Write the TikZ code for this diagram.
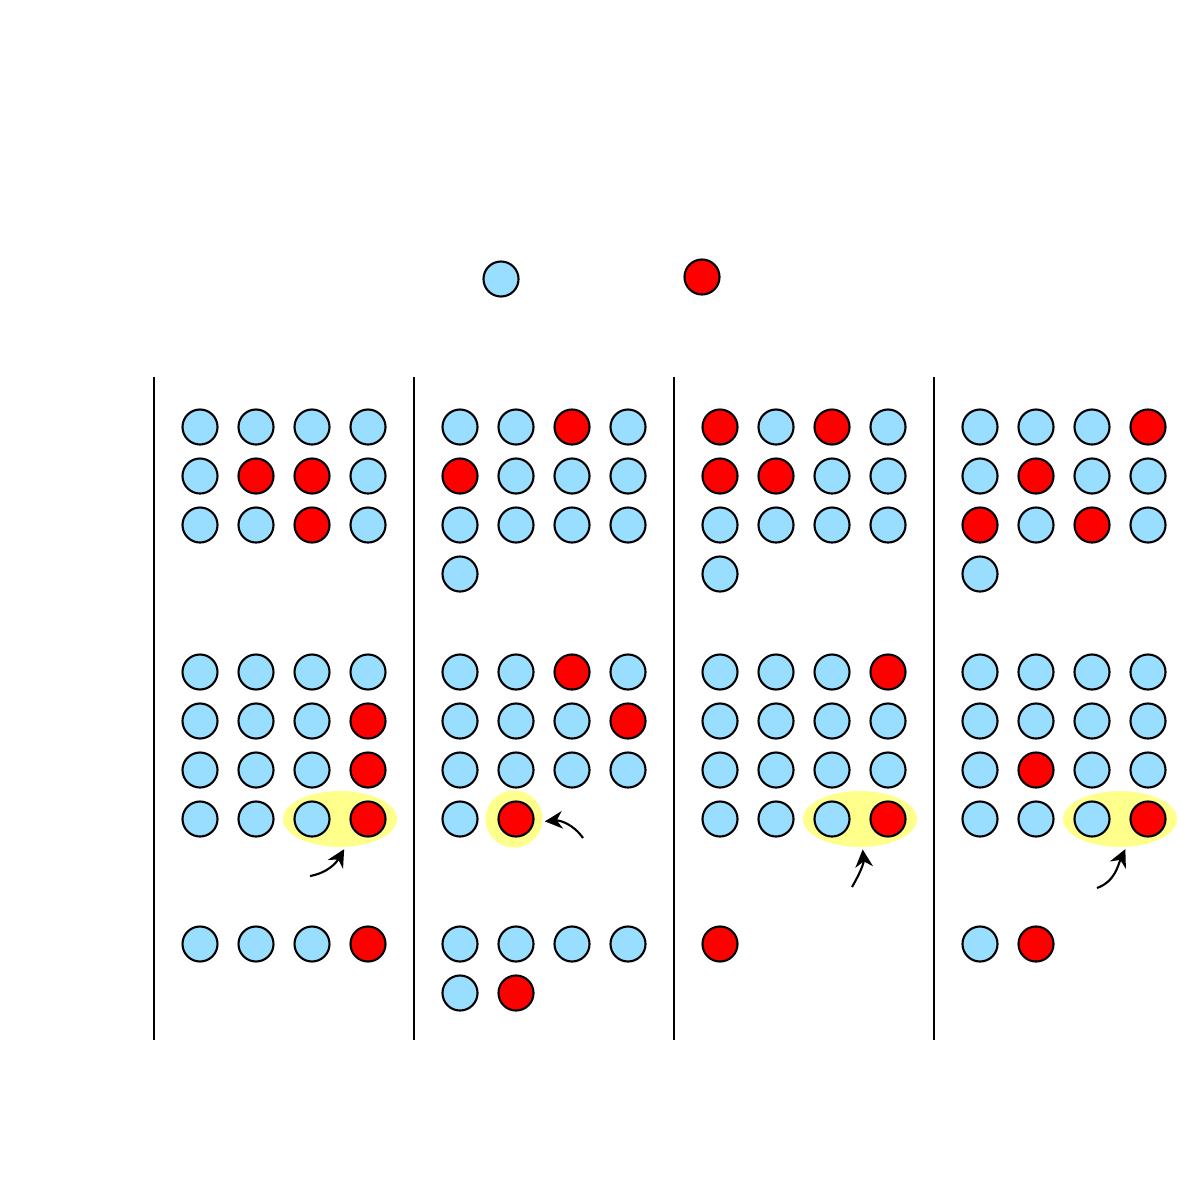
\documentclass[tikz,border=0pt]{standalone}
\usetikzlibrary{arrows.meta,shapes.geometric,calc,backgrounds}
\definecolor{cB}{RGB}{153,221,255}
\definecolor{cR}{RGB}{255,0,0}
\definecolor{hlY}{RGB}{255,255,140}
% one row of dots: name, x of first dot, y, colours
\newcommand{\dotrow}[4]{%
  \foreach \col [count=\i] in {#4}{\node[dot,fill=\col] (#1-\i) at ({#2+56*(\i-1)},#3) {};}}

\begin{document}
\begin{tikzpicture}[
  x=0.01cm,y=0.01cm,
  dot/.style={circle,draw,line width=0.6pt,minimum size=0.35cm,inner sep=0pt},
  hl/.style={ellipse,fill=hlY,minimum width=1.14cm,minimum height=0.56cm,inner sep=0pt},
  sep/.style={line width=0.6pt},
  arr/.style={-{Stealth[length=5pt,width=5pt]},line width=0.6pt,shorten >=0.5pt}
]
  \useasboundingbox (0,0) rectangle (1200,-1200);
  % ---------------- legend ----------------
  \node[dot,fill=cB] (keyB) at (501,-279) {};
  \node[dot,fill=cR] (keyR) at (702,-277) {};
  % ---------------- separators ----------------
  \foreach \x [count=\k] in {154,414,674,934}{
    \coordinate (top\k) at (\x,-377); \coordinate (bot\k) at (\x,-1040);
    \draw[sep] (top\k) -- (bot\k);}
  % ---------------- panel 1 ----------------
  \dotrow{p1a1}{200}{-427}{cB,cB,cB,cB}
  \dotrow{p1a2}{200}{-476}{cB,cR,cR,cB}
  \dotrow{p1a3}{200}{-525}{cB,cB,cR,cB}
  \dotrow{p1b1}{200}{-672}{cB,cB,cB,cB}
  \dotrow{p1b2}{200}{-721}{cB,cB,cB,cR}
  \dotrow{p1b3}{200}{-770}{cB,cB,cB,cR}
  \dotrow{p1b4}{200}{-819}{cB,cB,cB,cR}
  \dotrow{p1c1}{200}{-944}{cB,cB,cB,cR}
  % ---------------- panel 2 ----------------
  \dotrow{p2a1}{460}{-427}{cB,cB,cR,cB}
  \dotrow{p2a2}{460}{-476}{cR,cB,cB,cB}
  \dotrow{p2a3}{460}{-525}{cB,cB,cB,cB}
  \dotrow{p2a4}{460}{-574}{cB}
  \dotrow{p2b1}{460}{-672}{cB,cB,cR,cB}
  \dotrow{p2b2}{460}{-721}{cB,cB,cB,cR}
  \dotrow{p2b3}{460}{-770}{cB,cB,cB,cB}
  \dotrow{p2b4}{460}{-819}{cB,cR}
  \dotrow{p2c1}{460}{-944}{cB,cB,cB,cB}
  \dotrow{p2c2}{460}{-993}{cB,cR}
  % ---------------- panel 3 ----------------
  \dotrow{p3a1}{720}{-427}{cR,cB,cR,cB}
  \dotrow{p3a2}{720}{-476}{cR,cR,cB,cB}
  \dotrow{p3a3}{720}{-525}{cB,cB,cB,cB}
  \dotrow{p3a4}{720}{-574}{cB}
  \dotrow{p3b1}{720}{-672}{cB,cB,cB,cR}
  \dotrow{p3b2}{720}{-721}{cB,cB,cB,cB}
  \dotrow{p3b3}{720}{-770}{cB,cB,cB,cB}
  \dotrow{p3b4}{720}{-819}{cB,cB,cB,cR}
  \dotrow{p3c1}{720}{-944}{cR}
  % ---------------- panel 4 ----------------
  \dotrow{p4a1}{980}{-427}{cB,cB,cB,cR}
  \dotrow{p4a2}{980}{-476}{cB,cR,cB,cB}
  \dotrow{p4a3}{980}{-525}{cR,cB,cR,cB}
  \dotrow{p4a4}{980}{-574}{cB}
  \dotrow{p4b1}{980}{-672}{cB,cB,cB,cB}
  \dotrow{p4b2}{980}{-721}{cB,cB,cB,cB}
  \dotrow{p4b3}{980}{-770}{cB,cR,cB,cB}
  \dotrow{p4b4}{980}{-819}{cB,cB,cB,cR}
  \dotrow{p4c1}{980}{-944}{cB,cR}
  % ---------------- highlights ----------------
  \begin{scope}[on background layer]
    \node[hl] (hl1) at ($(p1b4-3)!0.5!(p1b4-4)$) {};
    \node[hl,circle,minimum size=0.57cm] (hl2) at ($(p2b4-2)+(-2,0)$) {};
    \node[hl] (hl3) at ($(p3b4-3)!0.5!(p3b4-4)$) {};
    \node[hl] (hl4) at ($(p4b4-3)!0.5!(p4b4-4)$) {};
  \end{scope}
  % ---------------- arrows ----------------
  \coordinate (s1) at (310,-876);
  \coordinate (s2) at (583,-838);
  \coordinate (s3) at (852,-887);
  \coordinate (s4) at (1097,-888);
  \draw[arr] (s1) to[out=10,in=-120] (hl1.-80);
  \draw[arr] (s2) to[out=125,in=5] (hl2.-5);
  \draw[arr] (s3) to[out=60,in=-85] (hl3.-85);
  \draw[arr] (s4) to[out=20,in=-115] (hl4.-78);
\end{tikzpicture}
\end{document}
